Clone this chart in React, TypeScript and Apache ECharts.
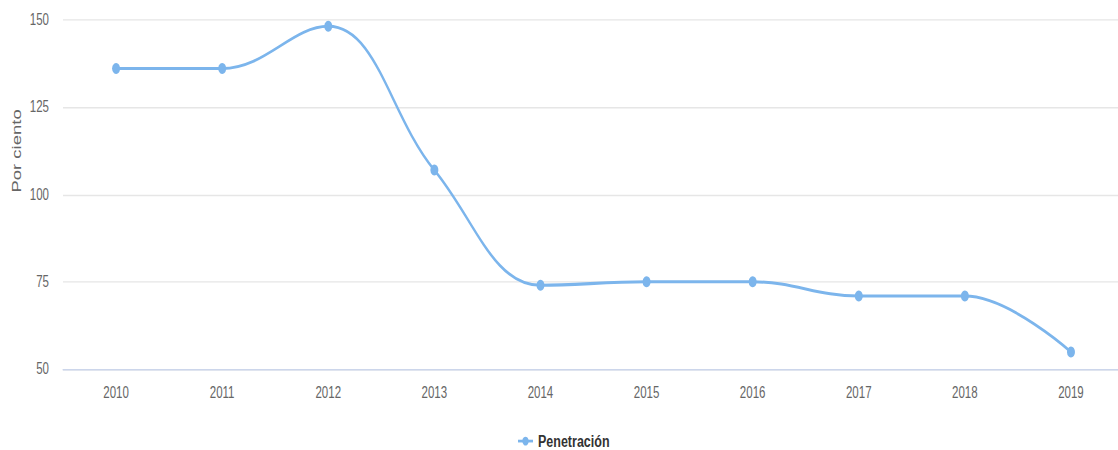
import React, { useEffect, useRef } from "react";
import * as echarts from "echarts";

const years = ["2010", "2011", "2012", "2013", "2014", "2015", "2016", "2017", "2018", "2019"];
const penetracion = [136.1, 136.1, 148.2, 107.0, 74.0, 75.0, 75.0, 70.9, 70.9, 54.9];
const yTicks = { min: 50, max: 150, step: 25 };
const seriesName = "Penetración";
const axisTitle = "Por ciento";

// The chart is drawn at its native height and then stretched vertically
// to fill the 450px frame; the canvas has a little spare room below.
const FRAME_W = 1118;
const FRAME_H = 450;
const NATIVE_H = 328;
const CANVAS_H = 340;
const STRETCH = FRAME_H / NATIVE_H;

const font = "'Liberation Sans', Arial, sans-serif";

export default function App() {
  const ref = useRef<HTMLDivElement>(null);

  useEffect(() => {
    document.body.style.margin = "0";
    const chart = echarts.init(ref.current!, null, {
      renderer: "svg",
      width: FRAME_W,
      height: CANVAS_H,
    });
    chart.setOption({
      animation: false,
      backgroundColor: "#ffffff",
      grid: {
        left: 63,
        width: 1061,
        top: 14.6,
        height: 254.4,
        containLabel: false,
        outerBoundsMode: "none",
      },
      legend: {
        top: 315,
        left: 517,
        padding: 0,
        itemWidth: 15,
        itemHeight: 8,
        itemGap: 4,
        textStyle: {
          color: "#333333",
          fontSize: 12.5,
          lineHeight: 11,
          fontWeight: "bold",
          fontFamily: font,
        },
        data: [seriesName],
      },
      xAxis: {
        type: "category",
        data: years,
        boundaryGap: true,
        axisLine: { lineStyle: { color: "#ccd6eb", width: 1 } },
        axisTick: { show: false },
        axisLabel: { color: "#666666", fontSize: 11.5, margin: 11, fontFamily: font },
      },
      yAxis: {
        type: "value",
        min: yTicks.min,
        max: yTicks.max,
        interval: yTicks.step,
        axisLine: { show: false },
        axisTick: { show: false },
        splitLine: { lineStyle: { color: "#e6e6e6", width: 1 } },
        axisLabel: { color: "#666666", fontSize: 11.5, margin: 14, fontFamily: font },
      },
      graphic: [
        {
          type: "text",
          x: 16,
          y: 110,
          rotation: Math.PI / 2,
          style: {
            text: axisTitle,
            fill: "#666666",
            fontSize: 13.5,
            fontFamily: font,
            align: "center",
            verticalAlign: "middle",
          },
        },
      ],
      series: [
        {
          name: seriesName,
          type: "line",
          data: penetracion,
          smooth: 0.4,
          symbol: "circle",
          symbolSize: 8,
          showSymbol: true,
          itemStyle: { color: "#7cb5ec" },
          lineStyle: { color: "#7cb5ec", width: 2.2 },
        },
      ],
    });
    return () => chart.dispose();
  }, []);

  return (
    <div style={{ width: FRAME_W, height: FRAME_H, overflow: "hidden", background: "#ffffff" }}>
      <div
        ref={ref}
        style={{
          width: FRAME_W,
          height: CANVAS_H,
          transform: `scaleY(${STRETCH})`,
          transformOrigin: "0 0",
        }}
      />
    </div>
  );
}
